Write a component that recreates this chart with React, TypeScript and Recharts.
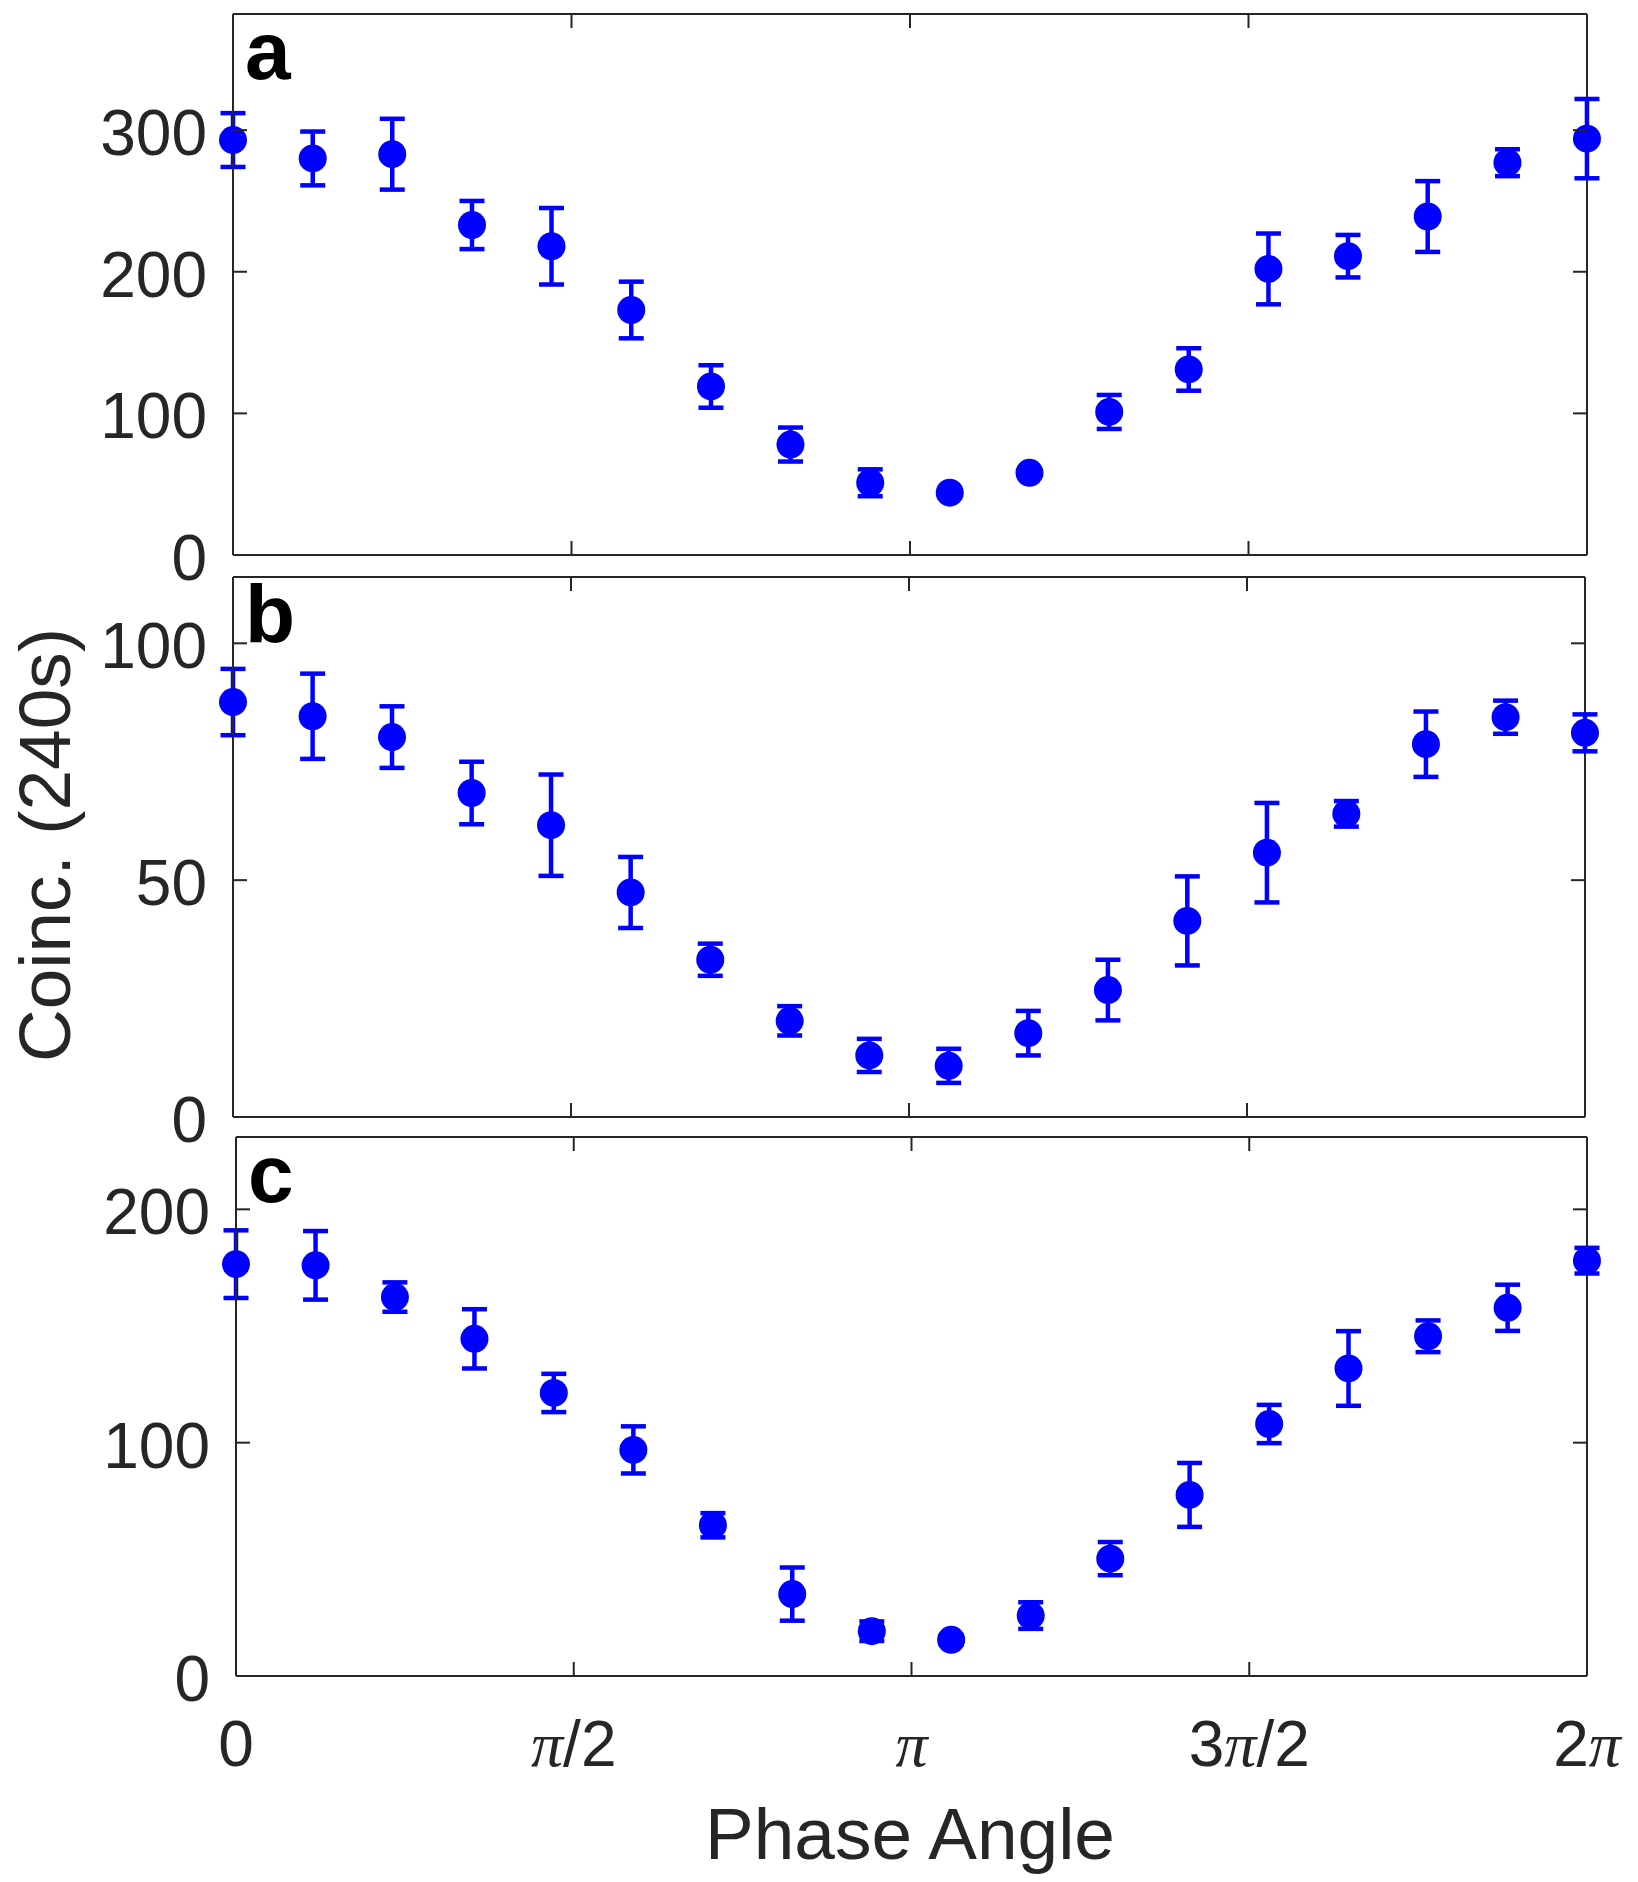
import { ScatterChart, Scatter, XAxis, YAxis, ErrorBar, ReferenceLine } from "recharts";

// phase of each measurement (rad)
const phase = [0, 0.37, 0.739, 1.109, 1.478, 1.848, 2.218, 2.587, 2.957, 3.326, 3.696, 4.066, 4.435, 4.805, 5.174, 5.544, 5.914, 6.283];

// panel a
const countsA = [293, 280, 283, 233, 218, 173, 119, 78, 51, 44, 58, 101, 131, 202, 211, 239, 277, 294];
const errA = [19, 19, 25, 17, 27, 20, 15, 12, 9.5, 2, 2, 12, 15, 25, 15, 25, 9.5, 28];

// panel b
const countsB = [87.6, 84.6, 80.2, 68.4, 61.6, 47.4, 33.2, 20.3, 13.0, 10.8, 17.7, 26.8, 41.4, 55.8, 64.0, 78.7, 84.4, 81.1];
const errB = [7, 9, 6.5, 6.6, 10.7, 7.5, 3.4, 3.1, 3.5, 3.6, 4.7, 6.4, 9.4, 10.5, 2.7, 6.9, 3.5, 3.9];

// panel c
const countsC = [176.5, 176.0, 162.4, 144.5, 121.3, 96.9, 64.6, 35.1, 19.2, 15.5, 25.9, 50.3, 77.6, 108.0, 131.8, 145.6, 157.8, 178.0];
const errC = [14.5, 14.7, 6.3, 12.7, 8.2, 10.1, 5.2, 11.4, 4.2, 2, 5.7, 7.1, 13.7, 8.2, 16, 6.8, 9.9, 5.5];

const xTicks = [0, Math.PI / 2, Math.PI, (3 * Math.PI) / 2, 2 * Math.PI];
const xTickLabels = ["0", "π/2", "π", "3π/2", "2π"];

const W = 1638;
const X_MAX = 2 * Math.PI;
const AXIS = "#262626";
const BLUE = "#0000ff";
const SANS = '"Liberation Sans", Arial, Helvetica, sans-serif';
const SERIF = '"Liberation Serif", "Times New Roman", serif';
const TICK_LEN = 14;

function toPoints(values: number[], errs: number[]) {
  return phase.map((x, i) => ({ x, y: values[i], err: errs[i] }));
}

function piText(label: string) {
  return label
    .split(/(π)/)
    .filter(Boolean)
    .map((part, i) =>
      part === "π" ? (
        <tspan key={i} fontFamily={SERIF} fontStyle="italic">
          π
        </tspan>
      ) : (
        <tspan key={i}>{part}</tspan>
      )
    );
}

interface PanelProps {
  top: number;
  height: number;
  plotLeft: number;
  plotRight: number;
  plotTop: number;
  plotBottom: number;
  data: { x: number; y: number; err: number }[];
  yMax: number;
  yTicks: number[];
  letter: string;
  xLabels?: boolean;
  yTitle?: boolean;
  xTitle?: boolean;
}

function Panel({ top, height, plotLeft, plotRight, plotTop, plotBottom, data, yMax, yTicks, letter, xLabels, yTitle, xTitle }: PanelProps) {
  const plotW = plotRight - plotLeft;
  const plotH = plotBottom - plotTop;
  const margin = { top: plotTop, left: plotLeft - 1, right: W - plotRight, bottom: height - plotBottom - 1 };

  const yTick = (props: any) => {
    const { x, y, payload } = props;
    return (
      <g>
        <line x1={x} x2={x + TICK_LEN} y1={y} y2={y} stroke={AXIS} strokeWidth={2} />
        <line x1={x + plotW} x2={x + plotW - TICK_LEN} y1={y} y2={y} stroke={AXIS} strokeWidth={2} />
        <text x={x - 26} y={y + 25} textAnchor="end" fontSize={64} fontFamily={SANS} fill={AXIS}>
          {payload.value}
        </text>
      </g>
    );
  };

  const xTick = (props: any) => {
    const { x, y, payload } = props;
    const idx = xTicks.findIndex((t) => Math.abs(t - payload.value) < 1e-6);
    return (
      <g>
        <line x1={x} x2={x} y1={y} y2={y - TICK_LEN} stroke={AXIS} strokeWidth={2} />
        <line x1={x} x2={x} y1={y - plotH} y2={y - plotH + TICK_LEN} stroke={AXIS} strokeWidth={2} />
        {xLabels && idx >= 0 && (
          <text x={x} y={y + 90} textAnchor="middle" fontSize={64} fontFamily={SANS} fill={AXIS}>
            {piText(xTickLabels[idx])}
          </text>
        )}
      </g>
    );
  };

  return (
    <div style={{ position: "absolute", left: 0, top }}>
      <ScatterChart width={W} height={height} margin={margin}>
        <XAxis
          type="number"
          dataKey="x"
          domain={[0, X_MAX]}
          ticks={xTicks}
          interval={0}
          height={1}
          tickSize={0}
          tickMargin={0}
          tickLine={false}
          axisLine={{ stroke: AXIS, strokeWidth: 2 }}
          tick={xTick}
          label={
            xTitle
              ? () => (
                  <text x={910} y={739} textAnchor="middle" fontSize={73} fontFamily={SANS} fill={AXIS}>
                    Phase Angle
                  </text>
                )
              : undefined
          }
        />
        <YAxis
          type="number"
          dataKey="y"
          domain={[0, yMax]}
          ticks={yTicks}
          interval={0}
          width={1}
          tickSize={0}
          tickMargin={0}
          tickLine={false}
          axisLine={{ stroke: AXIS, strokeWidth: 2 }}
          tick={yTick}
          label={
            yTitle
              ? () => (
                  <text
                    x={70}
                    y={285}
                    transform="rotate(-90, 70, 285)"
                    textAnchor="middle"
                    fontSize={73}
                    fontFamily={SANS}
                    fill={AXIS}
                  >
                    Coinc. (240s)
                  </text>
                )
              : undefined
          }
        />
        <ReferenceLine
          y={yMax}
          stroke={AXIS}
          strokeWidth={2}
          label={() => (
            <text x={plotLeft + 12} y={plotTop + 65} fontSize={82} fontWeight="bold" fontFamily={SANS} fill="#000">
              {letter}
            </text>
          )}
        />
        <ReferenceLine x={X_MAX} stroke={AXIS} strokeWidth={2} />
        <Scatter
          data={data}
          isAnimationActive={false}
          shape={(p: any) => <circle cx={p.cx} cy={p.cy} r={14} fill={BLUE} />}
        >
          <ErrorBar dataKey="err" direction="y" width={12.5} strokeWidth={4.5} stroke={BLUE} isAnimationActive={false} />
        </Scatter>
      </ScatterChart>
    </div>
  );
}

export default function App() {
  return (
    <div style={{ position: "absolute", left: 0, top: 0, width: W, height: 1882, background: "#fff", overflow: "hidden" }}>
      <Panel
        top={0}
        height={620}
        plotLeft={233}
        plotRight={1587}
        plotTop={14}
        plotBottom={555}
        data={toPoints(countsA, errA)}
        yMax={382}
        yTicks={[0, 100, 200, 300]}
        letter="a"
      />
      <Panel
        top={560}
        height={620}
        plotLeft={233}
        plotRight={1585}
        plotTop={17}
        plotBottom={557}
        data={toPoints(countsB, errB)}
        yMax={114}
        yTicks={[0, 50, 100]}
        letter="b"
        yTitle
      />
      <Panel
        top={1120}
        height={762}
        plotLeft={236}
        plotRight={1587}
        plotTop={17}
        plotBottom={556}
        data={toPoints(countsC, errC)}
        yMax={231}
        yTicks={[0, 100, 200]}
        letter="c"
        xLabels
        xTitle
      />
    </div>
  );
}
